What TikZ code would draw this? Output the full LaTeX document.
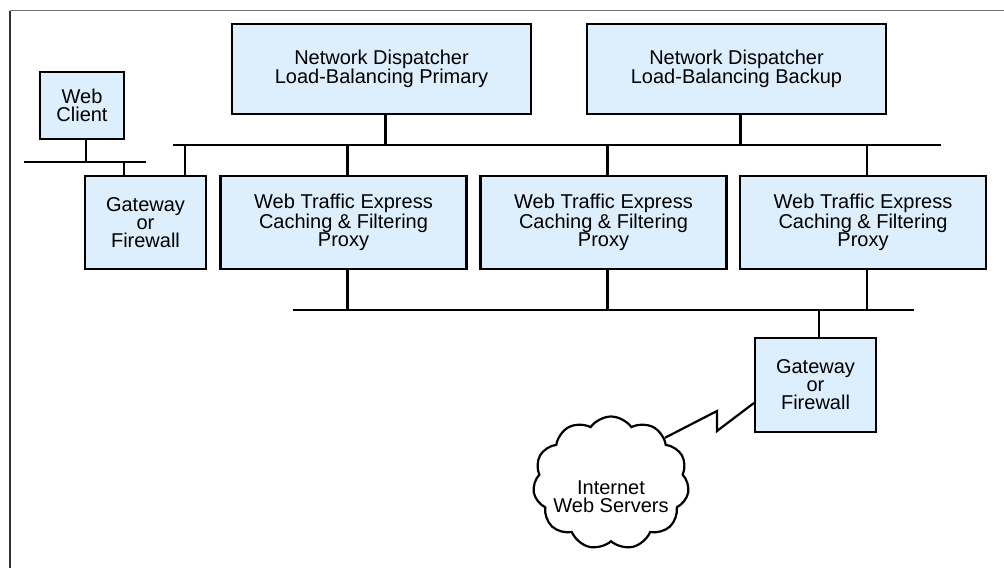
\documentclass[tikz,border=0pt]{standalone}
\usepackage{fontspec}
\setmainfont{Liberation Sans}
\usetikzlibrary{shapes.symbols}
\definecolor{boxfill}{RGB}{221,238,253}

\begin{document}
\begin{tikzpicture}[x=1pt,y=-1pt,
	box/.style={draw,line width=2.2pt,fill=boxfill,align=center,inner sep=0pt,
		font=\fontsize{20}{18}\selectfont},
	lan/.style={line width=2.2pt}]

	\useasboundingbox (0,0) rectangle (1004,568);
	\draw[black!55,line width=1.4pt] (1004,10.5) -- (10,10.5);
	\draw[black!80,line width=1.4pt] (10,10.5) -- (10,568);

	\node[box,minimum width=84,minimum height=67] (client) at (82,105.5) {Web\\Client};
	\node[box,minimum width=121,minimum height=93] (gw1) at (145.5,222.5) {Gateway\\or\\Firewall};
	\node[box,minimum width=299,minimum height=90] (ndp) at (381.5,69) {Network Dispatcher\\Load-Balancing Primary};
	\node[box,minimum width=299,minimum height=90] (ndb) at (736.5,69) {Network Dispatcher\\Load-Balancing Backup};
	\node[box,minimum width=246,minimum height=93] (px1) at (343.5,222.5) {Web Traffic Express\\Caching \& Filtering\\Proxy};
	\node[box,minimum width=246,minimum height=93] (px2) at (603.5,222.5) {Web Traffic Express\\Caching \& Filtering\\Proxy};
	\node[box,minimum width=246,minimum height=93] (px3) at (863,222.5) {Web Traffic Express\\Caching \& Filtering\\Proxy};
	\node[box,minimum width=121,minimum height=94] (gw2) at (815.5,385) {Gateway\\or\\Firewall};
	\node[draw,cloud,cloud puffs=11,cloud puff arc=110,line width=2.2pt,
		minimum width=156,minimum height=133,inner sep=0pt] (inet) at (611,483) {};
	\node[align=center,inner sep=0pt,font=\fontsize{20}{18}\selectfont] (inettext) at (611,497) {Internet\\Web Servers};

	% LAN segments
	\coordinate (lanL1) at (24,162);
	\coordinate (lanL2) at (146,162);
	\coordinate (lanU1) at (173,145);
	\coordinate (lanU2) at (941,145);
	\coordinate (lanD1) at (293,310);
	\coordinate (lanD2) at (914,310);

	\draw[lan] (lanL1) -- (lanL2);
	\draw[lan] (lanU1) -- (lanU2);
	\draw[lan] (lanD1) -- (lanD2);

	\draw[lan] ([xshift=4]client.south) -- ([xshift=4]client.south |- lanL1);
	\draw[lan] ([xshift=-21.5]gw1.north) -- ([xshift=-21.5]gw1.north |- lanL1);
	\draw[lan] ([xshift=39.5]gw1.north) -- ([xshift=39.5]gw1.north |- lanU1);

	\foreach \n in {ndp,ndb}
	{
		\draw[lan] ([xshift=4]\n.south) -- ([xshift=4]\n.south |- lanU1);
	};

	\foreach \n in {px1,px2,px3}
	{
		\draw[lan] ([xshift=4]\n.north) -- ([xshift=4]\n.north |- lanU1);
		\draw[lan] ([xshift=4]\n.south) -- ([xshift=4]\n.south |- lanD1);
	};

	\draw[lan] ([xshift=3.5]gw2.north) -- ([xshift=3.5]gw2.north |- lanD1);

	% link to the internet
	\coordinate (zig1) at (717,411);
	\coordinate (zig2) at (717,431);
	\draw[lan,line join=miter] (inet.40) -- (zig1) -- (zig2) -- ([yshift=-18]gw2.west);

\end{tikzpicture}
\end{document}
